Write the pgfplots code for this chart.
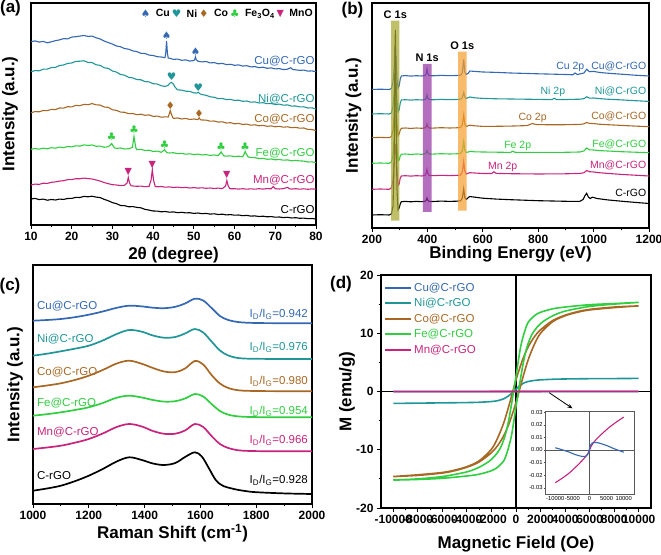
\documentclass[border=0pt]{standalone}
\usepackage{fontspec}
\setmainfont{Liberation Sans}
\newfontfamily\sym{DejaVu Sans}
\usepackage{pgfplots}
\pgfplotsset{compat=1.18}
\usetikzlibrary{arrows.meta}
\definecolor{cuc}{RGB}{52,104,178}
\definecolor{nic}{RGB}{32,150,152}
\definecolor{coc}{RGB}{168,104,36}
\definecolor{fec}{RGB}{48,206,64}
\definecolor{mnc}{RGB}{200,36,124}
\definecolor{cband}{RGB}{168,168,48}
\definecolor{nband}{RGB}{150,55,165}
\definecolor{oband}{RGB}{245,160,50}
\newcommand\lab{\fontsize{11.5}{12}\selectfont}
\newcommand\labb{\fontsize{10.5}{11}\selectfont}
\newcommand\tkf{\fontsize{12}{12}\selectfont\bfseries}
\newcommand\axf{\fontsize{17}{17}\selectfont\bfseries}
\pgfplotsset{
  panel/.style={
    scale only axis, anchor=south west,
    axis line style={line width=1.3pt},
    tick style={line width=0.9pt, black},
    major tick length=4pt, minor tick length=2.4pt,
    tick align=outside, xtick pos=left, ytick pos=left,
    tick label style={font=\tkf},
    label style={font=\axf},
    /pgf/number format/assume math mode=true,
    /pgf/number format/1000 sep={},
    scaled ticks=false,
  },
}
\begin{document}
\begin{tikzpicture}
\useasboundingbox (0pt,0pt) rectangle (661pt,554pt);
% ---------------- (a) XRD ----------------
\begin{axis}[panel, at={(31pt,329pt)}, width=285pt, height=222pt,
  xmin=10, xmax=80, ymin=0, ymax=222,
  xtick={10,20,...,80}, minor x tick num=1, ytick=\empty,
  xlabel={2θ (degree)}, ylabel={Intensity (a.u.)},
  xlabel style={at={(axis description cs:0.5,-0.135)}, anchor=center},
  ylabel style={at={(axis description cs:-0.074,0.5)}, anchor=center},
  every axis plot/.append style={line width=1.1pt},
  legend columns=-1,
  legend style={draw=none, fill=none, at={(axis description cs:1,0.985)}, anchor=north east,
    font=\fontsize{10.5}{11}\selectfont\bfseries, inner sep=1pt,
    /tikz/every odd column/.append style={column sep=3.5pt}},
  legend image code/.code={\draw[mark repeat=2,mark phase=2,#1] plot coordinates {(0pt,0pt)(4.5pt,0pt)(9pt,0pt)};},
]
\addplot[cuc, forget plot] coordinates {(10,183.3)(11,184.1)(12,182.9)(13,183.6)(14,182.2)(15,183.2)(16,184.3)(17,185.1)(18,186.4)(19,186.1)(20,187.9)(21,188.3)(22,188.9)(23,189.5)(24,188.6)(25,188.9)(26,187.2)(27,186.0)(28,183.9)(29,182.4)(30,180.9)(31,179.0)(32,178.2)(33,176.4)(34,175.8)(35,174.1)(36,173.4)(37,171.7)(38,171.5)(39,169.9)(40,169.5)(41,168.3)(42,168.0)(42.9,167.3)(43.1,172)(43.3,184)(43.5,172)(43.7,167)(44,166.8)(45,165.6)(46,165.9)(47,164.7)(48,165.1)(49,163.9)(50,164.5)(50.2,165.5)(50.4,168)(50.6,165.2)(51,163.8)(52,163.1)(53,163.5)(54,162.1)(55,162.4)(56,161.2)(57,161.6)(58,160.4)(59,160.7)(60,159.7)(61,160.1)(62,158.9)(63,159.3)(64,158.1)(65,158.4)(66,157.3)(67,157.8)(68,156.7)(69,157.1)(70,156.1)(71,156.4)(72,155.4)(73,155.8)(73.8,157.3)(74.3,155.5)(75,155.2)(76,154.6)(77,154.9)(78,153.9)(79,154.1)(80,153.3)};
\addplot[nic, forget plot] coordinates {(10,153.3)(11,154.4)(12,154.2)(13,155.8)(14,155.9)(15,157.4)(16,157.6)(17,159.5)(18,160.0)(19,161.6)(20,162.0)(21,163.6)(22,163.8)(23,164.2)(24,162.6)(25,162.4)(26,160.2)(27,159.6)(28,157.2)(29,156.6)(30,154.0)(31,152.9)(32,150.5)(33,149.8)(34,147.6)(35,147.1)(36,145.4)(37,145.2)(38,143.4)(39,143.1)(40,141.3)(41,141.0)(42,139.2)(43,138.6)(43.6,139.5)(44.1,141.8)(44.5,142.6)(44.9,141.2)(45.4,137.8)(46,135.1)(47,134.9)(48,133.8)(49,133.6)(50,132.1)(50.7,131.9)(51.1,132.8)(51.5,131.2)(52,130.4)(53,129.7)(54,128.2)(55,127.7)(56,126.3)(57,126.5)(58,125.4)(59,125.6)(60,124.6)(61,124.8)(62,123.7)(63,124.0)(64,122.8)(65,123.1)(66,122.0)(67,122.3)(68,121.3)(69,121.5)(70,120.5)(71,120.9)(72,119.8)(73,120.1)(74,118.9)(75,119.0)(76,118.1)(77,118.2)(78,117.0)(79,117.2)(80,116.0)};
\addplot[coc, forget plot] coordinates {(10,112.3)(11,113.4)(12,113.2)(13,114.5)(14,114.3)(15,115.6)(16,115.4)(17,117.0)(18,116.9)(19,118.3)(20,118.1)(21,119.6)(22,119.3)(23,120.6)(24,120.3)(25,121.4)(26,120.2)(27,119.9)(28,118.0)(29,117.6)(30,115.2)(31,114.6)(32,112.9)(33,112.7)(34,111.3)(35,111.5)(36,110.3)(37,110.8)(38,109.7)(39,110.1)(40,108.6)(41,108.9)(42,107.8)(43,108.2)(43.7,108)(44.0,111.5)(44.2,114.5)(44.4,111.8)(44.8,107.4)(45,106.6)(46,107.1)(47,106.0)(48,106.6)(49,105.5)(50,106.0)(51,105.4)(51.3,107.2)(51.6,105.3)(52,105.0)(53,104.9)(54,103.8)(55,104.0)(56,102.9)(57,103.2)(58,102.0)(59,102.3)(60,101.2)(61,101.6)(62,100.5)(63,100.9)(64,99.8)(65,100.2)(66,99.2)(67,99.6)(68,98.7)(69,99.1)(70,98.2)(71,98.7)(72,97.8)(73,98.2)(74,97.3)(75,97.6)(76,96.8)(77,97.0)(78,95.6)(79,95.5)(80,94.3)};
\addplot[fec, forget plot] coordinates {(10,75.7)(11,76.5)(12,75.8)(13,76.9)(14,76.2)(15,77.3)(16,76.8)(17,77.9)(18,77.4)(19,78.5)(20,78.1)(21,79.2)(22,78.9)(23,80.1)(24,79.6)(25,80.0)(26,78.7)(27,78.9)(28,77.7)(29,78.3)(29.5,80)(29.8,81.5)(30.1,79.5)(30.5,77.2)(31,76.6)(32,77.0)(33,76.0)(34,76.3)(34.9,77.5)(35.1,83)(35.3,88.5)(35.5,83)(35.8,76.5)(36,75.3)(37,75.6)(38,74.5)(39,74.8)(40,73.5)(41,73.9)(42,72.7)(42.6,74.5)(42.8,75.5)(43.0,74)(43.4,72.3)(44,72.0)(45,72.3)(46,71.3)(47,71.6)(48,70.8)(49,71.2)(50,70.4)(51,70.9)(52,70.0)(53,70.4)(54,69.6)(55,70.0)(56,69.4)(56.4,71.5)(56.7,73.2)(57.0,71)(57.4,69)(58,68.9)(59,69.1)(60,68.4)(61,68.8)(62,68.3)(62.3,70.5)(62.6,73.5)(62.9,70.8)(63.3,68.2)(64,67.4)(65,67.3)(66,66.5)(67,66.6)(68,65.7)(69,66.0)(70,65.2)(71,65.5)(72,64.8)(73,65.1)(74,64.2)(75,64.6)(76,64.1)(77,63.9)(78,63.0)(79,63.2)(80,62.3)};
\addplot[mnc, forget plot] coordinates {(10,40.0)(11,40.9)(12,40.6)(13,41.8)(14,41.6)(15,42.7)(16,43.1)(17,43.9)(18,44.3)(19,45.3)(20,45.4)(21,46.3)(22,46.2)(23,46.9)(24,46.4)(25,46.0)(26,45.0)(27,43.9)(28,42.4)(29,41.3)(30,40.3)(31,40.0)(32,39.4)(33,39.8)(33.6,42)(33.9,47.5)(34.2,42)(34.6,39.2)(35,39.0)(36,38.7)(37,38.9)(38,38.3)(39,38.6)(39.5,45)(39.8,55.5)(40.1,45)(40.5,38.6)(41,38.2)(42,38.5)(43,37.8)(44,38.1)(45,37.5)(46,37.9)(47,37.3)(48,37.6)(49,37.0)(50,37.4)(51,36.9)(52,37.2)(53,36.7)(54,37.0)(55,36.5)(56,36.9)(57,36.4)(57.8,39)(58.1,44.5)(58.4,39.5)(58.8,36.5)(59,36.2)(60,36.3)(61,35.9)(62,36.3)(63,35.8)(64,36.2)(65,35.8)(66,36.3)(67,35.9)(68,36.4)(69,36.2)(69.5,38.5)(70,36.3)(71,36.0)(72,36.4)(73,37.6)(73.5,36.2)(74,35.9)(75,36.3)(76,35.8)(77,36.2)(78,35.7)(79,36.1)(80,35.8)};
\addplot[black, forget plot] coordinates {(10,26.0)(11,26.6)(12,25.4)(13,25.9)(14,24.8)(15,25.5)(16,25.0)(17,25.9)(18,25.6)(19,26.5)(20,26.6)(21,27.6)(22,27.5)(23,28.6)(24,28.2)(25,28.8)(26,27.9)(27,27.4)(28,25.6)(29,24.2)(30,22.4)(31,21.3)(32,19.5)(33,19.3)(34,18.2)(35,18.4)(36,17.6)(37,17.2)(38,15.6)(39,14.9)(40,14.0)(41,13.9)(42,13.2)(43,13.5)(44,12.8)(45,13.1)(46,12.3)(47,12.7)(48,12.1)(49,12.3)(50,11.6)(51,12.0)(52,11.3)(53,11.6)(54,10.9)(55,11.2)(56,10.5)(57,10.8)(58,10.1)(59,10.4)(60,9.8)(61,10.0)(62,9.3)(63,9.6)(64,8.9)(65,9.1)(66,8.5)(67,8.8)(68,8.2)(69,8.4)(70,7.8)(71,8.0)(72,7.4)(73,7.7)(74,7.0)(75,7.3)(76,6.7)(77,6.9)(78,6.3)(79,6.5)(80,6.0)};
\addplot[only marks, cuc, mark=text, text mark={\sym ♠}, text mark as node=true, text mark style={font=\fontsize{10.5}{10.5}\selectfont\sym, inner sep=0pt}] coordinates {(43.3,189.5)(50.4,173)};
\addlegendentry{Cu}
\addplot[only marks, nic, mark=text, text mark={\sym ♥}, text mark as node=true, text mark style={font=\fontsize{10.5}{10.5}\selectfont\sym, inner sep=0pt}] coordinates {(44.5,148)(51.1,137)};
\addlegendentry{Ni}
\addplot[only marks, coc, mark=text, text mark={\sym ♦}, text mark as node=true, text mark style={font=\fontsize{10.5}{10.5}\selectfont\sym, inner sep=0pt}] coordinates {(44.2,119.5)(51.3,111.5)};
\addlegendentry{Co}
\addplot[only marks, fec, mark=text, text mark={\sym ♣}, text mark as node=true, text mark style={font=\fontsize{10.5}{10.5}\selectfont\sym, inner sep=0pt}] coordinates {(29.8,88)(35.3,95.5)(42.8,80.5)(56.7,78)(62.6,78)};
\addlegendentry{Fe\textsubscript{3}O\textsubscript{4}}
\addplot[only marks, mnc, mark=text, text mark={\sym ▼}, text mark as node=true, text mark style={font=\fontsize{9.5}{9.5}\selectfont\sym, inner sep=0pt}] coordinates {(33.9,53)(39.8,60)(58.1,49.5)};
\addlegendentry{MnO}
\node[anchor=east, inner sep=0pt, text=cuc, font=\lab] at (axis cs:79.7,164) {Cu@C-rGO};
\node[anchor=east, inner sep=0pt, text=nic, font=\lab] at (axis cs:79.7,126) {Ni@C-rGO};
\node[anchor=east, inner sep=0pt, text=coc, font=\lab] at (axis cs:79.7,106) {Co@C-rGO};
\node[anchor=east, inner sep=0pt, text=fec, font=\lab] at (axis cs:79.7,72) {Fe@C-rGO};
\node[anchor=east, inner sep=0pt, text=mnc, font=\lab] at (axis cs:79.7,45) {Mn@C-rGO};
\node[anchor=east, inner sep=0pt, text=black, font=\lab] at (axis cs:79.7,15) {C-rGO};
\end{axis}
% ---------------- (b) XPS ----------------
\begin{axis}[panel, at={(372pt,326pt)}, width=277pt, height=225pt,
  xmin=200, xmax=1200, ymin=0, ymax=225,
  xtick={200,400,...,1200}, minor x tick num=1, ytick=\empty,
  xlabel={Binding Energy (eV)}, ylabel={Intensity (a.u.)},
  xlabel style={at={(axis description cs:0.5,-0.116)}, anchor=center},
  ylabel style={at={(axis description cs:-0.067,0.5)}, anchor=center},
  every axis plot/.append style={line width=1.1pt},
]
\addplot[cuc] coordinates {(200,138.5)(230,138.8)(262,138.5)(270,139.5)(276,146)(280,160)(283,178)(285,182)(287,168)(290,150)(294,140)(298,142)(302,149)(306,152)(320,152.4)(340,151.9)(360,152.3)(380,152.0)(392,152.6)(396,154.5)(398.5,159)(401,154.5)(406,152.5)(420,152.2)(450,152.6)(480,152.3)(505,152.5)(520,152.8)(526,155)(531,168.5)(535,156)(540,153.5)(548,155)(553,157)(570,156.6)(600,156)(650,155.6)(700,155)(800,154.2)(900,153.5)(925,153.2)(933,155)(941,153.5)(950,154)(965,155)(975,158.7)(985,156.3)(1000,156.6)(1020,155.6)(1050,154.8)(1100,153.8)(1150,152.8)(1200,152)};
\addplot[nic] coordinates {(200,114)(230,114.3)(262,114)(270,115)(276,122)(280,135)(283,150)(285,153)(287,143)(290,128)(294,116)(298,118)(302,125)(306,128)(320,128.3)(340,127.9)(360,128.3)(380,128)(392,128.5)(396,130)(398.5,133)(401,130)(406,128.4)(420,128.2)(450,128.6)(480,128.3)(505,128.5)(520,128.8)(526,130.5)(531,135.5)(535,131)(540,129.5)(548,130.5)(553,131)(570,130.2)(600,129.6)(650,129.2)(700,129)(800,128.6)(850,128.4)(858,129.8)(866,128.4)(900,128.5)(950,128.8)(965,129.3)(975,131.2)(985,129.8)(1000,130)(1020,129.4)(1050,128.8)(1100,128.1)(1150,127.3)(1200,126.6)};
\addplot[coc] coordinates {(200,90.3)(230,90.6)(262,90.3)(270,91.5)(276,98)(280,112)(283,128)(285,132)(287,120)(290,104)(294,92)(298,94)(302,98)(306,99.7)(320,100)(340,99.6)(360,100)(380,99.7)(392,100.2)(396,101.5)(398.5,104)(401,101.5)(406,100)(420,99.9)(450,100.3)(480,100)(505,100.2)(520,100.5)(526,103)(531,113)(535,104)(540,101.5)(548,102.3)(553,102.8)(570,102.2)(600,101.6)(650,101.7)(700,101.9)(760,102.4)(772,103.8)(780,104.5)(790,103.6)(800,103.4)(850,103.2)(900,103.3)(950,103.6)(965,104.1)(975,105.5)(985,104.6)(1000,104.4)(1020,103.8)(1050,103.3)(1100,102.6)(1150,101.9)(1200,101.3)};
\addplot[fec] coordinates {(200,64.7)(230,65)(262,64.7)(270,66)(276,73)(280,88)(283,104)(285,108)(287,96)(290,80)(294,67)(298,68)(302,72)(306,73.7)(320,74)(340,73.6)(360,74)(380,73.7)(392,74.2)(396,75.5)(398.5,77.5)(401,75.5)(406,74)(420,73.9)(450,74.3)(480,74)(505,74.2)(520,74.5)(526,77)(531,86.3)(535,78)(540,75.5)(548,76)(553,76.6)(570,76.2)(600,76)(650,75.8)(700,75.6)(708,76.8)(716,75.7)(800,75.6)(900,75.7)(950,76)(965,77)(975,80)(985,78.2)(1000,78)(1020,77.4)(1050,77)(1100,76.3)(1150,75.8)(1200,75.3)};
\addplot[mnc] coordinates {(200,38.7)(230,39)(262,38.7)(270,40)(276,48)(280,64)(283,80)(285,84)(287,72)(290,56)(294,42)(298,44)(302,50)(306,52)(320,52.3)(340,51.9)(360,52.3)(380,52)(392,52.8)(396,55)(398.5,58.5)(401,55)(406,52.6)(420,52.3)(450,52.7)(480,52.4)(505,52.6)(520,53)(526,56)(531,66.3)(535,57)(540,54)(548,54.8)(553,55.3)(570,55)(600,54.5)(632,54.5)(640,56.2)(648,54.6)(700,54.3)(800,54)(900,54.2)(950,54.6)(965,55.2)(975,57.5)(985,56.3)(1000,56)(1020,55.3)(1050,54.6)(1100,53.6)(1150,52.8)(1200,52)};
\addplot[black] coordinates {(200,13)(230,13.3)(262,13)(270,14)(276,22)(280,70)(283,180)(284.5,198)(286,160)(288,90)(290,40)(294,18)(298,20)(302,24)(306,26.3)(320,26.6)(340,26.2)(360,26.6)(380,26.3)(392,26.8)(396,28)(398.5,30)(401,28)(406,26.6)(420,26.5)(450,26.9)(480,26.6)(505,26.8)(520,27.2)(526,30)(531,39)(535,30.5)(540,28.5)(548,30.5)(553,31.5)(560,31.2)(600,29.8)(650,28.9)(700,28.3)(800,27.3)(900,26.7)(950,26.6)(962,28.5)(968,32)(975,34.7)(981,31)(988,29.5)(995,30.8)(1003,30.3)(1012,29.5)(1050,28.1)(1100,26.8)(1150,25.6)(1200,24.5)};
\addplot[draw=none, fill=cband, fill opacity=0.72] coordinates {(269,7.3)(299,7.3)(299,207.3)(269,207.3)(269,7.3)};
\addplot[draw=none, fill=nband, fill opacity=0.72] coordinates {(384,16)(415,16)(415,164)(384,164)(384,16)};
\addplot[draw=none, fill=oband, fill opacity=0.72] coordinates {(511,17.3)(542,17.3)(542,176.3)(511,176.3)(511,17.3)};
\node[font=\fontsize{11}{12}\selectfont\bfseries] at (axis cs:284,213.5) {C 1s};
\node[font=\fontsize{11}{12}\selectfont\bfseries] at (axis cs:399,170) {N 1s};
\node[font=\fontsize{11}{12}\selectfont\bfseries] at (axis cs:526,182) {O 1s};
\node[text=cuc, font=\labb] at (axis cs:916,161.5) {Cu 2p};
\node[text=nic, font=\labb] at (axis cs:853,136.5) {Ni 2p};
\node[text=coc, font=\labb] at (axis cs:780,110) {Co 2p};
\node[text=fec, font=\labb] at (axis cs:726,82.5) {Fe 2p};
\node[text=mnc, font=\labb] at (axis cs:672,61.5) {Mn 2p};
\node[anchor=east, inner sep=0pt, text=cuc, font=\labb] at (axis cs:1191,161.5) {Cu@C-rGO};
\node[anchor=east, inner sep=0pt, text=nic, font=\labb] at (axis cs:1191,136.5) {Ni@C-rGO};
\node[anchor=east, inner sep=0pt, text=coc, font=\labb] at (axis cs:1191,111.5) {Co@C-rGO};
\node[anchor=east, inner sep=0pt, text=fec, font=\labb] at (axis cs:1191,84) {Fe@C-rGO};
\node[anchor=east, inner sep=0pt, text=mnc, font=\labb] at (axis cs:1191,62.5) {Mn@C-rGO};
\node[anchor=east, inner sep=0pt, text=black, font=\labb] at (axis cs:1191,35) {C-rGO};
\end{axis}
% ---------------- (c) Raman ----------------
\begin{axis}[panel, at={(33pt,50pt)}, width=279pt, height=239pt,
  xmin=1000, xmax=2000, ymin=0, ymax=239,
  xtick={1000,1200,...,2000}, minor x tick num=1, ytick=\empty,
  xlabel={Raman Shift (cm\textsuperscript{-1})}, ylabel={Intensity (a.u.)},
  xlabel style={at={(axis description cs:0.5,-0.121)}, anchor=center},
  ylabel style={at={(axis description cs:-0.065,0.5)}, anchor=center},
  every axis plot/.append style={line width=1.7pt, smooth, tension=0.55},
]
\addplot[cuc] coordinates {(1000,183.3)(1050,184)(1100,185)(1150,186.8)(1200,189.3)(1250,192.5)(1300,196.2)(1345,198.3)(1390,197.6)(1430,196.3)(1470,195.8)(1510,197.2)(1545,200.5)(1580,205.3)(1610,203.5)(1640,196)(1670,188)(1700,184)(1740,181.8)(1800,181)(1900,180.8)(2000,180.7)};
\addplot[nic] coordinates {(1000,148.3)(1050,150.3)(1100,152.7)(1150,155.3)(1200,158.3)(1250,163.5)(1300,170)(1345,174)(1390,172.3)(1430,168.5)(1470,166.3)(1510,167)(1545,170.5)(1580,175)(1610,171.5)(1640,162.5)(1670,153.5)(1700,148.5)(1740,145.8)(1800,145.2)(1900,145)(2000,145)};
\addplot[coc] coordinates {(1000,116.7)(1050,118.5)(1100,120.7)(1150,124)(1200,128.3)(1250,134)(1300,140.5)(1345,143.3)(1390,140.2)(1430,136)(1470,132.5)(1510,131.8)(1545,135.5)(1580,143)(1610,139.5)(1640,129)(1670,120.5)(1700,116)(1740,113.6)(1800,113)(1900,112.8)(2000,112.7)};
\addplot[fec] coordinates {(1000,88.3)(1050,89.8)(1100,91.7)(1150,94)(1200,96.7)(1250,101)(1300,106.3)(1345,108.3)(1390,106.5)(1430,104)(1470,102.4)(1510,102.8)(1545,105.5)(1580,110)(1610,107.5)(1640,100)(1670,93)(1700,89.3)(1740,87.5)(1800,86.9)(1900,86.7)(2000,86.7)};
\addplot[mnc] coordinates {(1000,55)(1050,56.5)(1100,58.3)(1150,61.3)(1200,65)(1250,70.5)(1300,77)(1345,80)(1390,77.5)(1430,73)(1470,70.2)(1510,70.3)(1545,73.5)(1580,80)(1610,77)(1640,68)(1670,60)(1700,56)(1740,53.6)(1800,52.9)(1900,52.7)(2000,52.7)};
\addplot[black] coordinates {(1000,13.3)(1050,15.5)(1100,18.3)(1150,22.8)(1200,28.3)(1250,35)(1300,42.5)(1345,46.7)(1390,44)(1430,40.5)(1470,39)(1510,41)(1545,47)(1580,51.7)(1605,47.5)(1630,36)(1655,24)(1680,18.3)(1720,15)(1760,13)(1800,11.8)(1900,10.6)(2000,10)};
\node[anchor=west, inner sep=0pt, text=cuc, font=\lab] at (axis cs:1014,198.3) {Cu@C-rGO};
\node[anchor=west, inner sep=0pt, text=nic, font=\lab] at (axis cs:1014,165) {Ni@C-rGO};
\node[anchor=west, inner sep=0pt, text=coc, font=\lab] at (axis cs:1014,131.7) {Co@C-rGO};
\node[anchor=west, inner sep=0pt, text=fec, font=\lab] at (axis cs:1014,100.7) {Fe@C-rGO};
\node[anchor=west, inner sep=0pt, text=mnc, font=\lab] at (axis cs:1014,71.7) {Mn@C-rGO};
\node[anchor=west, inner sep=0pt, text=black, font=\lab] at (axis cs:1014,28.3) {C-rGO};
\node[anchor=east, inner sep=0pt, text=cuc, font=\lab] at (axis cs:1986,190) {I\textsubscript{D}/I\textsubscript{G}=0.942};
\node[anchor=east, inner sep=0pt, text=nic, font=\lab] at (axis cs:1986,156.7) {I\textsubscript{D}/I\textsubscript{G}=0.976};
\node[anchor=east, inner sep=0pt, text=coc, font=\lab] at (axis cs:1986,122.7) {I\textsubscript{D}/I\textsubscript{G}=0.980};
\node[anchor=east, inner sep=0pt, text=fec, font=\lab] at (axis cs:1986,92.7) {I\textsubscript{D}/I\textsubscript{G}=0.954};
\node[anchor=east, inner sep=0pt, text=mnc, font=\lab] at (axis cs:1986,63.3) {I\textsubscript{D}/I\textsubscript{G}=0.966};
\node[anchor=east, inner sep=0pt, text=black, font=\lab] at (axis cs:1986,23.3) {I\textsubscript{D}/I\textsubscript{G}=0.928};
\end{axis}
% ---------------- (d) M-H ----------------
\begin{axis}[panel, at={(381pt,46pt)}, width=270pt, height=233pt,
  xmin=-11000, xmax=11000, ymin=-20, ymax=20,
  xtick={-10000,-8000,-6000,-4000,-2000,0,2000,4000,6000,8000,10000},
  xticklabels={-10000,-8000,-6000,-4000,-2000,0,2000,4000,6000,8000,10000},
  ytick={-20,-10,0,10,20}, yticklabels={-20,-10,0,10,20},
  minor x tick num=1, minor y tick num=1,
  xlabel={Magnetic Field (Oe)}, ylabel={M (emu/g)},
  xlabel style={at={(axis description cs:0.5,-0.155)}, anchor=center},
  ylabel style={at={(axis description cs:-0.126,0.5)}, anchor=center},
  legend cell align=left,
  legend style={draw=none, fill=none, at={(axis description cs:0.012,0.975)}, anchor=north west,
    font=\fontsize{11.5}{12}\selectfont, inner sep=0pt, row sep=1.6pt},
  legend image code/.code={\draw[#1, line width=1.8pt] (0pt,0pt) -- (26pt,0pt);},
]
\addplot[black, line width=1.3pt, forget plot] coordinates {(0,-20)(0,20)};
\addplot[black, line width=1.3pt, forget plot] coordinates {(-11000,0)(11000,0)};
\addplot[cuc, line width=1.6pt] coordinates {(-10000,0.0018)(-9000,0.001)(-8000,0.0002)(-7000,-0.0007)(-6000,-0.0016)(-5000,-0.0028)(-4000,-0.0038)(-3000,-0.0046)(-2000,-0.0052)(-1200,-0.005)(-800,-0.0044)(-400,-0.003)(-200,-0.0015)(0,0.0012)(200,0.0032)(500,0.0047)(1000,0.0058)(1500,0.006)(2500,0.0057)(4000,0.0045)(5500,0.003)(7000,0.0012)(8500,-0.0003)(10000,-0.0018)};
\addlegendentry{\textcolor{cuc}{Cu@C-rGO}}
\addplot[nic, line width=1.6pt, smooth, tension=0.5] coordinates {(-10000,-2.05)(-8000,-2.0)(-6000,-1.95)(-4000,-1.9)(-3000,-1.85)(-2000,-1.72)(-1500,-1.58)(-1000,-1.25)(-600,-0.75)(-300,-0.2)(0,0.4)(300,1.0)(600,1.42)(1000,1.72)(1500,1.9)(2000,2.0)(3000,2.1)(4000,2.15)(6000,2.2)(8000,2.22)(10000,2.25)};
\addlegendentry{\textcolor{nic}{Ni@C-rGO}}
\addplot[coc, line width=1.6pt, smooth, tension=0.5] coordinates {(10000,14.7)(8000,14.5)(6000,14.1)(5000,13.7)(4000,13.1)(3000,12.2)(2000,10.6)(1500,9.4)(1000,7.7)(600,5.8)(300,4.0)(0,2.0)(-300,-0.3)(-600,-2.6)(-1000,-5.4)(-1500,-8.0)(-2000,-9.9)(-3000,-11.9)(-4000,-12.9)(-5000,-13.5)(-6000,-13.9)(-8000,-14.3)(-10000,-14.6)(-8000,-14.4)(-6000,-14.0)(-5000,-13.6)(-4000,-13.0)(-3000,-12.1)(-2000,-10.5)(-1500,-9.3)(-1000,-7.6)(-600,-5.7)(-300,-3.9)(0,-1.9)(300,0.4)(600,2.7)(1000,5.5)(1500,8.1)(2000,10.0)(3000,12.0)(4000,13.0)(5000,13.6)(6000,14.0)(8000,14.4)(10000,14.7)};
\addlegendentry{\textcolor{coc}{Co@C-rGO}}
\addplot[fec, line width=1.6pt, smooth, tension=0.5] coordinates {(10000,15.3)(8000,15.1)(6000,14.9)(4000,14.5)(3000,14.2)(2000,13.6)(1500,13.0)(1000,11.9)(700,10.3)(400,7.9)(200,5.4)(0,2.6)(-200,0)(-400,-2.6)(-600,-5.0)(-800,-6.9)(-1000,-8.3)(-1300,-9.8)(-1700,-11.0)(-2200,-12.0)(-3000,-13.0)(-4000,-13.8)(-6000,-14.6)(-8000,-15.0)(-10000,-15.2)(-8000,-15.1)(-6000,-14.9)(-4000,-14.5)(-3000,-14.2)(-2000,-13.6)(-1500,-13.0)(-1000,-11.9)(-700,-10.3)(-400,-7.9)(-200,-5.4)(0,-2.6)(200,0)(400,2.6)(600,5.0)(800,6.9)(1000,8.3)(1300,9.8)(1700,11.0)(2200,12.0)(3000,13.0)(4000,13.8)(6000,14.6)(8000,15.0)(10000,15.3)};
\addlegendentry{\textcolor{fec}{Fe@C-rGO}}
\addplot[mnc, line width=1.6pt] coordinates {(-10000,-0.026)(-8000,-0.0225)(-6000,-0.0185)(-4000,-0.0135)(-2000,-0.008)(-1000,-0.0048)(-500,-0.003)(0,0)(500,0.003)(1000,0.0052)(2000,0.0085)(4000,0.0138)(6000,0.0185)(8000,0.0225)(10000,0.0262)};
\addlegendentry{\textcolor{mnc}{Mn@C-rGO}}
\draw[-{Stealth[length=5pt,width=4pt]}, line width=0.8pt] (axis cs:2700,-0.2) -- (axis cs:4600,-2.9);
\end{axis}
% ---------------- (d) inset ----------------
\begin{axis}[scale only axis, anchor=south west, at={(545pt,60pt)}, width=89pt, height=83pt,
  xmin=-13000, xmax=13000, ymin=-0.035, ymax=0.031,
  scaled ticks=false,
  axis background/.style={fill=white},
  axis line style={line width=0.6pt, black!65},
  tick style={line width=0.4pt, black!70},
  major tick length=1.5pt, tick align=outside, xtick pos=left, ytick pos=left,
  xtick={-10000,-5000,0,5000,10000}, xticklabels={-10000,-5000,0,5000,10000},
  ytick={-0.03,-0.02,-0.01,0,0.01,0.02,0.03}, yticklabels={-0.03,-0.02,-0.01,0.00,0.01,0.02,0.03},
  tick label style={font=\fontsize{5.8}{5.8}\selectfont, inner sep=0.8pt},
  every axis plot/.append style={line width=1.1pt},
]
\addplot[black!65, line width=0.6pt] coordinates {(0,-0.035)(0,0.031)};
\addplot[black!65, line width=0.6pt] coordinates {(-13000,0)(13000,0)};
\addplot[mnc, smooth] coordinates {(-10000,-0.026)(-8000,-0.0225)(-6000,-0.0185)(-4000,-0.0135)(-2000,-0.008)(-1000,-0.0048)(-500,-0.003)(0,0)(500,0.003)(1000,0.0052)(2000,0.0085)(4000,0.0138)(6000,0.0185)(8000,0.0225)(10000,0.0262)};
\addplot[cuc, smooth] coordinates {(-10000,0.0018)(-9000,0.001)(-8000,0.0002)(-7000,-0.0007)(-6000,-0.0016)(-5000,-0.0028)(-4000,-0.0038)(-3000,-0.0046)(-2000,-0.0052)(-1200,-0.005)(-800,-0.0044)(-400,-0.003)(-200,-0.0015)(0,0.0012)(200,0.0032)(500,0.0047)(1000,0.0058)(1500,0.006)(2500,0.0057)(4000,0.0045)(5500,0.003)(7000,0.0012)(8500,-0.0003)(10000,-0.0018)};
\end{axis}
% panel letters
\node[font=\axf] at (10.5pt,545.5pt) {(a)};
\node[font=\axf] at (352.5pt,544pt) {(b)};
\node[font=\axf] at (10pt,267.5pt) {(c)};
\node[font=\axf] at (341pt,269.5pt) {(d)};
\end{tikzpicture}
\end{document}
